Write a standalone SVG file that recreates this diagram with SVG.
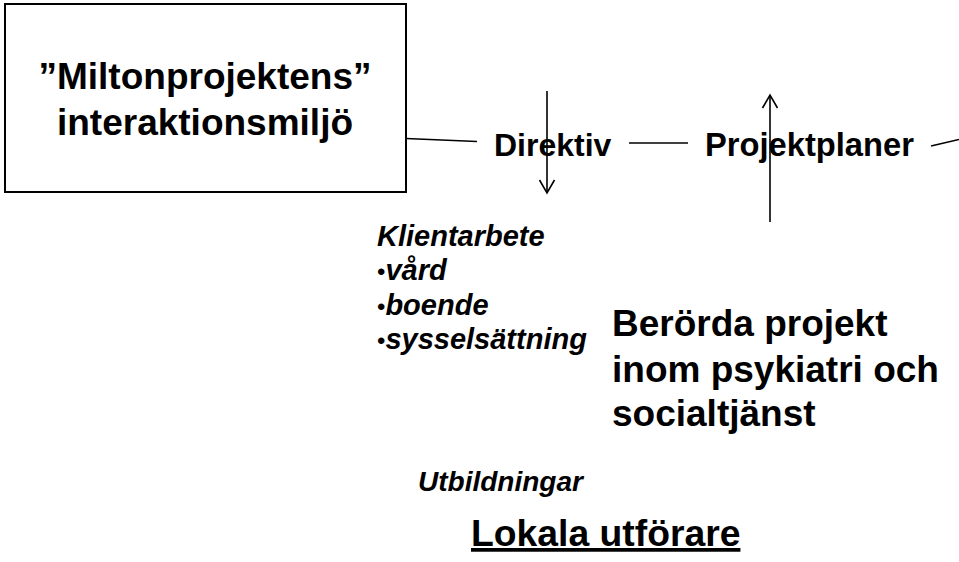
<svg xmlns="http://www.w3.org/2000/svg" width="959" height="562" viewBox="0 0 959 562">
<style>
text{font-family:"Liberation Sans",Arial,Helvetica,sans-serif;fill:#000}
.b{font-weight:bold}
.bi{font-weight:bold;font-style:italic}
.bul{font-style:normal;font-weight:normal}
.ln{stroke:#000;stroke-width:1.6;fill:none}
</style>
<defs>
<marker id="arr" viewBox="-1 -1 16 17" refX="13" refY="7.5" markerWidth="16" markerHeight="17" markerUnits="userSpaceOnUse" orient="auto" overflow="visible">
<path d="M0,0 L13,7.5 L0,15" fill="none" stroke="#000" stroke-width="1.6"/>
</marker>
</defs>
<rect width="959" height="562" fill="#fff"/>
<g id="connectors">
<path class="ln" d="M406,138.5 L477,141.5"/>
<path class="ln" d="M629,143 L688,143"/>
<path class="ln" d="M931,146 L959,139.5"/>
<path class="ln" d="M547,91 L547,193" marker-end="url(#arr)"/>
<path class="ln" d="M770,222 L770,95" marker-end="url(#arr)"/>
</g>
<g id="node-milton">
<rect x="5" y="4" width="401" height="188" fill="#fff" stroke="#000" stroke-width="2"/>
<text class="b" x="205" y="89" font-size="37" text-anchor="middle">”Miltonprojektens”</text>
<text class="b" x="205" y="135" font-size="37" text-anchor="middle">interaktionsmiljö</text>
</g>
<g id="node-direktiv">
<text class="b" x="494" y="156" font-size="32">Direktiv</text>
</g>
<g id="node-projektplaner">
<text class="b" x="705" y="156" font-size="32.7">Projektplaner</text>
</g>
<g id="node-klientarbete">
<text class="bi" x="377" y="246" font-size="29">Klientarbete</text>
<text class="bi" x="377" y="280" font-size="29"><tspan class="bul" font-size="24">•</tspan>vård</text>
<text class="bi" x="377" y="315" font-size="29"><tspan class="bul" font-size="24">•</tspan>boende</text>
<text class="bi" x="377" y="349" font-size="29"><tspan class="bul" font-size="24">•</tspan>sysselsättning</text>
</g>
<g id="node-berorda">
<text class="b" x="612" y="336" font-size="37">Berörda projekt</text>
<text class="b" x="612" y="382" font-size="37">inom psykiatri och</text>
<text class="b" x="612" y="426" font-size="37">socialtjänst</text>
</g>
<g id="node-utbildningar">
<text class="bi" x="418" y="491" font-size="28">Utbildningar</text>
</g>
<g id="node-lokala">
<text class="b" x="471" y="546" font-size="37.3" text-decoration="underline">Lokala utförare</text>
</g>
</svg>
